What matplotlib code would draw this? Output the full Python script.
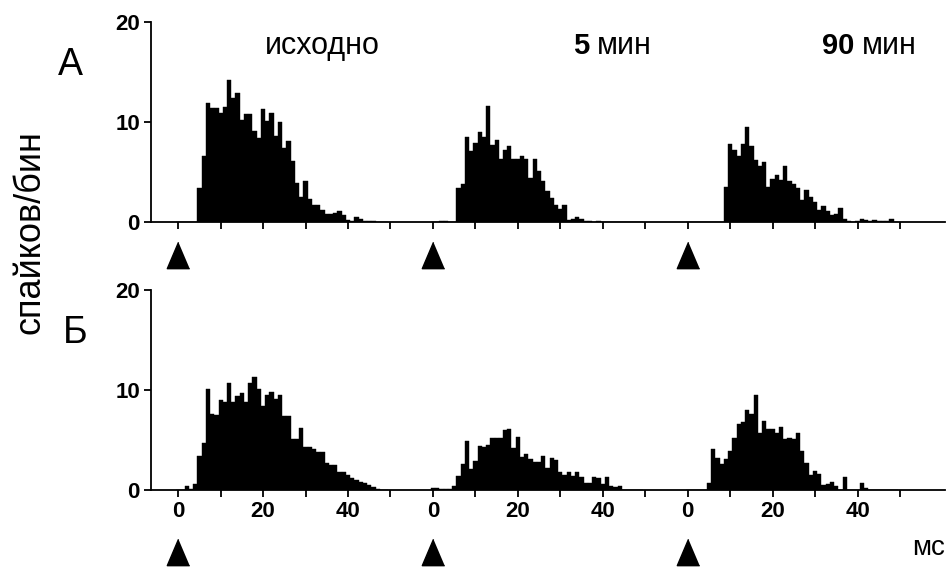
import numpy as np
import matplotlib
matplotlib.use("Agg")
import matplotlib.pyplot as plt
from matplotlib import transforms

plt.rcParams['font.family'] = ['Liberation Sans', 'DejaVu Sans']

# спайков/бин, бины по 1 мс (0..49 мс) для каждой записи
a_base = [0, 0, 0, 0, 0, 3.4, 6.6, 11.9, 11.4, 11.4,
          10.9, 11.5, 14.2, 12.4, 12.9, 10.2, 10.8, 10.8, 9.1, 8.4,
          11.3, 10.1, 10.9, 8.6, 10.0, 7.4, 8.1, 6.1, 3.9, 2.5,
          4.1, 2.3, 1.7, 1.7, 1.2, 0.85, 0.85, 0.9, 1.1, 0.75,
          0.25, 0.1, 0.5, 0.35, 0.15, 0.15, 0.1, 0.05, 0, 0]
a_5min = [0, 0, 0.1, 0.1, 0, 0, 3.4, 3.8, 8.5, 7.1,
          7.9, 9.0, 8.5, 11.65, 7.7, 8.25, 6.3, 7.2, 7.6, 6.3,
          6.3, 6.6, 6.3, 4.4, 6.3, 5.1, 4.1, 3.1, 2.4, 1.7,
          1.3, 1.7, 0.2, 0.27, 0.5, 0.35, 0.1, 0.15, 0.05, 0.1,
          0.05, 0.05, 0.05, 0.05, 0.05, 0.05, 0.05, 0.05, 0.05, 0.05]
a_90min = [0, 0, 0, 0.05, 0, 0, 0, 0, 0, 3.5,
           7.8, 7.2, 6.6, 7.8, 9.5, 7.6, 6.2, 5.6, 6.0, 3.5,
           4.3, 4.7, 4.2, 5.6, 4.1, 3.8, 3.4, 2.2, 3.2, 2.5,
           2.0, 1.2, 1.6, 1.1, 0.7, 0.85, 1.45, 0.35, 0.07, 0.05,
           0.1, 0.3, 0.2, 0.1, 0.2, 0.1, 0.1, 0.1, 0.35, 0]
b_base = [0, 0, 0.43, 0.1, 0.57, 3.4, 4.7, 10.1, 7.6, 7.5,
          9.0, 8.8, 10.7, 8.8, 9.4, 9.7, 8.8, 10.7, 11.3, 10.1,
          8.4, 9.5, 9.8, 9.1, 9.5, 7.4, 7.4, 5.1, 5.1, 6.2,
          4.3, 4.3, 4.1, 3.8, 3.8, 2.7, 2.5, 2.5, 1.8, 1.8,
          1.5, 1.2, 1.0, 0.8, 0.7, 0.5, 0.33, 0.1, 0, 0]
b_5min = [0.2, 0.2, 0.1, 0.1, 0.1, 0.45, 1.4, 2.6, 4.9, 2.1,
          2.9, 4.4, 4.3, 4.5, 5.2, 5.2, 5.2, 6.0, 6.1, 4.2,
          5.3, 3.3, 3.6, 3.1, 2.8, 2.8, 3.4, 2.2, 3.2, 3.0,
          1.8, 1.5, 1.8, 1.4, 1.8, 1.3, 0.7, 0.7, 1.3, 1.2,
          0.6, 1.3, 0.45, 0.35, 0.45, 0, 0, 0, 0, 0]
b_90min = [0, 0, 0, 0, 0, 0.7, 4.1, 3.2, 2.6, 3.1,
           3.9, 5.2, 6.6, 6.8, 8.0, 7.6, 9.5, 5.7, 6.9, 6.1,
           6.1, 5.7, 6.3, 5.1, 5.2, 5.1, 5.7, 3.9, 2.7, 1.5,
           1.9, 1.6, 0.47, 0.57, 0.83, 0.4, 0, 1.33, 0, 0,
           0, 0.73, 0.17, 0, 0, 0, 0, 0, 0, 0]

offsets = [0, 60, 120]          # мс, сдвиг каждой записи по оси
seg_ticks = [0, 10, 20, 30, 40, 50]
seg_labels = ['0', '', '20', '', '40', '']

fig = plt.figure(figsize=(9.5, 5.7), dpi=100)
ax_a = fig.add_axes([151 / 950, 1 - 222 / 570, 794 / 950, 200 / 570])
ax_b = fig.add_axes([151 / 950, 1 - 490 / 570, 794 / 950, 200 / 570])

bins = np.arange(50)
for ax, rows, tri_y, show_lab in [(ax_a, [a_base, a_5min, a_90min], -0.165, False),
                                   (ax_b, [b_base, b_5min, b_90min], -0.31, True)]:
    for off, vals in zip(offsets, rows):
        ax.bar(bins + off, vals, width=1.0, color='black', edgecolor='black',
               linewidth=0.3, align='center')
    ax.set_xlim(-6.4, 180.6)
    ax.set_ylim(0, 20)
    ax.set_yticks([0, 10, 20])
    ticks = [t + off for off in offsets for t in seg_ticks]
    ax.set_xticks(ticks)
    if show_lab:
        ax.set_xticklabels(seg_labels * 3)
    else:
        ax.set_xticklabels([])
    for s in ['top', 'right']:
        ax.spines[s].set_visible(False)
    for s in ['left', 'bottom']:
        ax.spines[s].set_linewidth(1.3)
    ax.tick_params(direction='out', length=5, width=1.3, pad=3, labelsize=16)
    for lab in ax.get_xticklabels() + ax.get_yticklabels():
        lab.set_fontweight('bold')
    trans = transforms.blended_transform_factory(ax.transData, ax.transAxes)
    ax.scatter(offsets, [tri_y] * 3, marker=[(0, 1), (-0.85, -1), (0.85, -1)],
               s=360, color='black', transform=trans, clip_on=False)

# подписи над записями
ax_a.text(33.9, 17.6, 'исходно', fontsize=22, ha='center', va='center')
ax_a.text(93.1, 17.6, '5', fontsize=21, fontweight='bold', ha='left', va='center')
ax_a.text(98.6, 17.6, 'мин', fontsize=22, ha='left', va='center')
ax_a.text(151.6, 17.6, '90', fontsize=21, fontweight='bold', ha='left', va='center')
ax_a.text(161.0, 17.6, 'мин', fontsize=22, ha='left', va='center')

fig.text(70 / 950, 1 - 65 / 570, 'А', fontsize=27, ha='center', va='center')
fig.text(75 / 950, 1 - 333 / 570, 'Б', fontsize=27, ha='center', va='center')
fig.text(30 / 950, 1 - 232 / 570, 'спайков/бин', fontsize=26, rotation=90,
         ha='center', va='center')
fig.text(945 / 950, 1 - 548 / 570, 'мс', fontsize=20, ha='right', va='center')

fig.savefig('out.png', dpi=100)
